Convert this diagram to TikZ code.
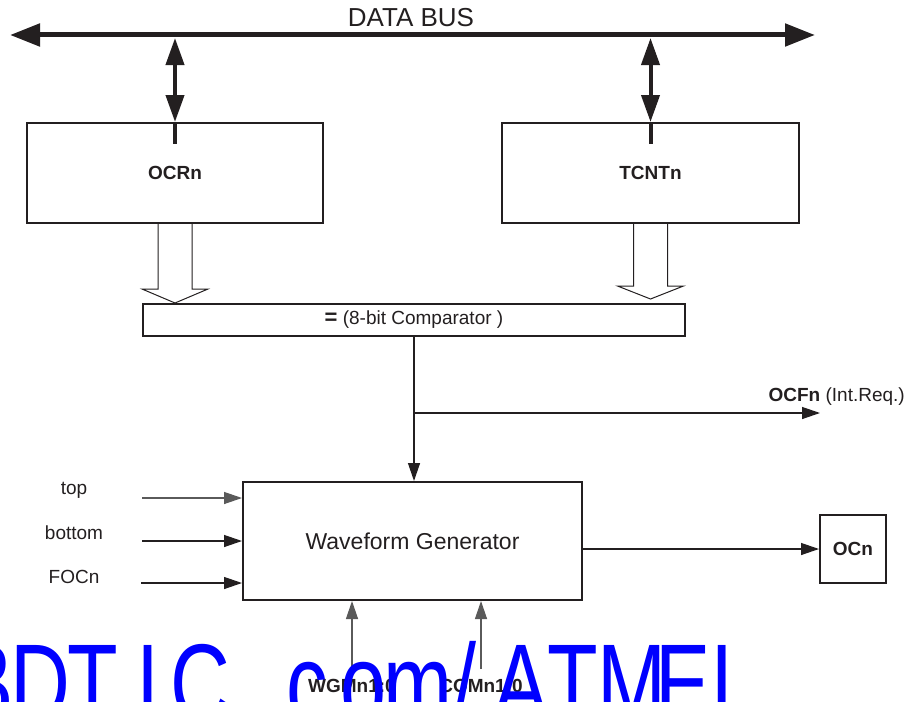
\documentclass[tikz,border=0pt]{standalone}
\usepackage{fontspec}
\setmainfont{Liberation Sans}
\usetikzlibrary{arrows.meta,calc}
\definecolor{ink}{HTML}{231F20}
\definecolor{soft}{HTML}{5A5A5A}
\definecolor{wmblue}{HTML}{0000FF}
\newcommand{\wmch}[1]{\scalebox{0.74}[1]{#1}}
\begin{document}
\begin{tikzpicture}[x=1pt,y=-1pt,
  box/.style={draw=ink,line width=2pt,inner sep=0pt,text=ink},
  lbl/.style={text=ink,font=\fontsize{19}{22}\selectfont,inner sep=0pt},
  blbl/.style={text=ink,font=\fontsize{19}{22}\selectfont\bfseries,inner sep=0pt},
  wire/.style={draw=ink,line width=1.3pt,-{Triangle[length=18pt,width=12pt]}},
  softwire/.style={wire,draw=soft},
  bus/.style={draw=ink,line width=5pt,{Triangle[length=30pt,width=22pt]}-{Triangle[length=30pt,width=22pt]}},
  vbus/.style={draw=ink,line width=4pt,{Triangle[length=27pt,width=18pt]}-{Triangle[length=27pt,width=18pt]}},
  hollow/.style={draw=ink,line width=1pt,fill=white,line join=miter},
  wm/.style={text=wmblue,font=\fontsize{112}{112}\selectfont,inner sep=0pt,anchor=base}]
\useasboundingbox (0,0) rectangle (917,701);

% data bus
\coordinate (busL) at (10,35);
\coordinate (busR) at (815,35);
\draw[bus] (busL) -- (busR);
\node[text=ink,font=\fontsize{26}{28}\selectfont,inner sep=0pt] (dbus) at (411,18) {DATA BUS};

% registers
\node[box,minimum width=296pt,minimum height=100pt,font=\fontsize{19}{22}\selectfont\bfseries] (ocr) at (175,173) {OCRn};
\node[box,minimum width=297pt,minimum height=100pt,font=\fontsize{19}{22}\selectfont\bfseries] (tcnt) at (650.5,173) {TCNTn};

\draw[vbus] ([yshift=-3pt]ocr.north |- busL) -- (ocr.north);
\draw[draw=ink,line width=4pt] (ocr.north) -- ++(0,22);
\draw[vbus] ([yshift=-3pt]tcnt.north |- busL) -- (tcnt.north);
\draw[draw=ink,line width=4pt] (tcnt.north) -- ++(0,22);

% comparator
\node[box,minimum width=542pt,minimum height=32pt,font=\fontsize{19}{22}\selectfont] (comp) at (414,320) {{\bfseries\fontsize{22}{22}\selectfont =} (8-bit Comparator )};

% hollow arrows
\draw[hollow,shift={(ocr.south)}] (-17,0) -- (-17,65) -- (-33,65) -- (0,79) -- (33,65) -- (17,65) -- (17,0);
\draw[hollow,shift={(tcnt.south)}] (-17,0) -- (-17,62) -- (-33,62) -- (0,75) -- (33,62) -- (17,62) -- (17,0);

% waveform generator
\node[box,minimum width=339pt,minimum height=118pt,font=\fontsize{23}{26}\selectfont] (wave) at (412.5,541) {Waveform Generator};
\node[box,minimum width=66pt,minimum height=68pt,font=\fontsize{19}{22}\selectfont\bfseries] (ocn) at (853,549) {OCn};

\draw[wire] (comp.south) -- (comp.south |- wave.north);
\coordinate (ocfend) at (820,413);
\draw[wire] (comp.south |- ocfend) -- (ocfend);
\node[lbl,anchor=east] (ocf) at (905,397) {\textbf{OCFn} (Int.Req.)};

% inputs
\node[lbl] (top) at (74,490) {top};
\node[lbl] (bot) at (74,533) {bottom};
\node[lbl] (foc) at (74,577) {FOCn};
\coordinate (intop) at (142,498);
\coordinate (inbot) at (142,541);
\coordinate (infoc) at (141,583);
\draw[softwire] (intop) -- (wave.west |- intop);
\draw[wire] (inbot) -- (wave.west |- inbot);
\draw[wire] (infoc) -- (wave.west |- infoc);

% output
\draw[wire] (ocn.west -| wave.east) -- (ocn.west);

% bottom inputs
\node[blbl] (wgl) at (352,686) {WGMn1:0};
\node[blbl] (col) at (481,686) {COMn1:0};
\draw[softwire] ([yshift=12pt]wgl.north) -- (wgl.north |- wave.south);
\draw[softwire] ([yshift=10pt]col.north) -- (col.north |- wave.south);

% watermark
\begin{scope}
\clip (0,0) rectangle (917,701);
\node[wm] (w1) at (-14,722) {\wmch{B}};
\node[wm] (w2) at (40,722) {\wmch{D}};
\node[wm] (w3) at (93,722) {\wmch{T}};
\node[wm] (w4) at (148,722) {\wmch{I}};
\node[wm] (w5) at (200,722) {\wmch{C}};
\node[wm] (w6) at (252,722) {\wmch{.}};
\node[wm] (w7) at (307,722) {\wmch{c}};
\node[wm] (w8) at (364,722) {\wmch{o}};
\node[wm] (w9) at (418,722) {\wmch{m}};
\node[wm] (w10) at (465,722) {\wmch{/}};
\node[wm] (w11) at (521,722) {\wmch{A}};
\node[wm] (w12) at (573,722) {\wmch{T}};
\node[wm] (w13) at (632,722) {\wmch{M}};
\node[wm] (w14) at (683,722) {\wmch{E}};
\node[wm] (w15) at (735,722) {\wmch{L}};
\end{scope}
\end{tikzpicture}
\end{document}
